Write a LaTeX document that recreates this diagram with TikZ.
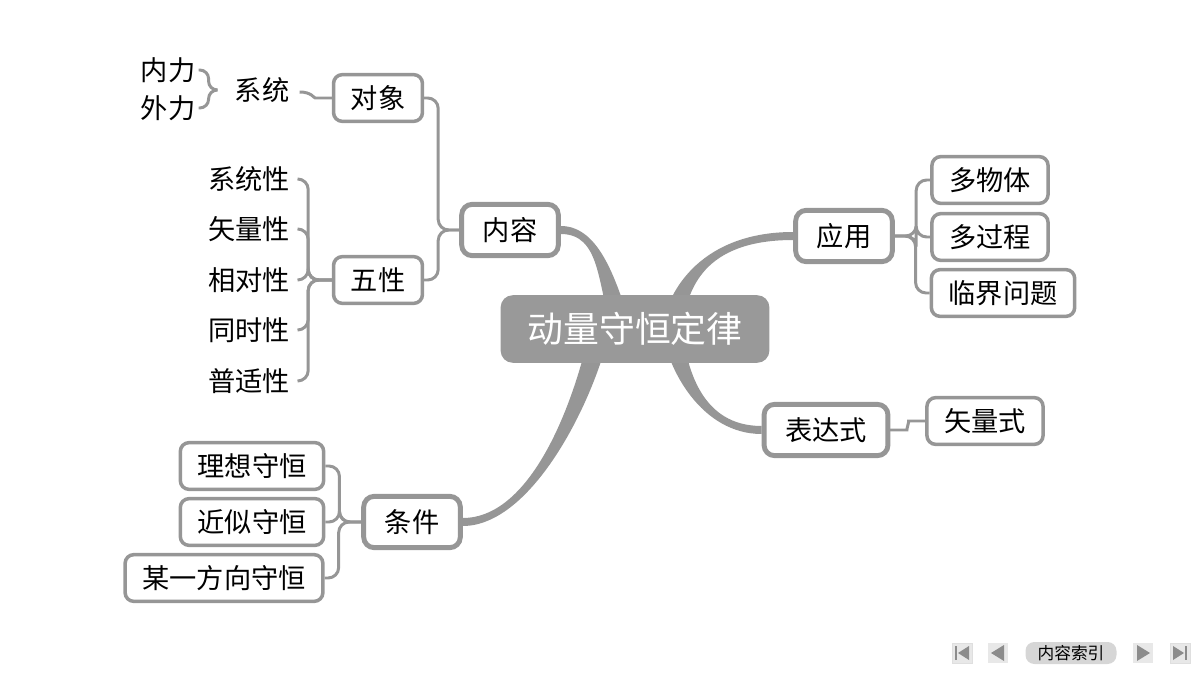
\documentclass[tikz,border=0pt]{standalone}
\usepackage{fontspec}
\setmainfont{Noto Sans CJK SC}
\usetikzlibrary{calc,backgrounds}
\definecolor{mmLine}{RGB}{150,150,150}
\definecolor{mmRoot}{RGB}{153,153,153}
\definecolor{navBg}{RGB}{232,232,232}
\definecolor{navTab}{RGB}{214,214,214}
\definecolor{navTri}{RGB}{140,140,140}
% tapered branch: child anchor, root point, child control, root control, side
\newcommand{\trunk}[5]{%
  \fill[mmLine]
    ($(#1)+(0,-4)$) .. controls ($(#1)+(#3)+(0,-4)$)
      and ($(#2)+(#4)+(#5*10,0)$) .. ($(#2)+(#5*10,0)$)
    -- ($(#2)+(-#5*10,0)$) .. controls ($(#2)+(#4)+(-#5*10,0)$)
      and ($(#1)+(#3)+(0,4)$) .. ($(#1)+(0,4)$) -- cycle;}

\begin{document}
\begin{tikzpicture}[
    x=0.02cm, y=-0.02cm,
    txt/.style={font=\fontsize{15.5}{18}\selectfont},
    rootbox/.style={fill=mmRoot, rounded corners=7pt, text=white,
      font=\fontsize{20.4}{24}\selectfont, inner xsep=15.3pt, minimum height=38.5pt},
    mainbox/.style={txt, draw=mmLine, fill=white, line width=2.8pt, rounded corners=6pt,
      inner xsep=12pt, minimum height=29.2pt},
    leafbox/.style={txt, draw=mmLine, fill=white, line width=2pt, rounded corners=5pt,
      inner xsep=9.8pt, minimum height=26.6pt},
    label/.style={txt, inner sep=0pt},
    link/.style={draw=mmLine, line width=1.7pt, rounded corners=6pt},
    navbtn/.style={fill=navBg, minimum size=0.4cm, inner sep=0pt},
  ]
  \useasboundingbox (0,0) rectangle (1200,675);

  %% ================= centre and first level =================
  \node[rootbox] (central) at (635,329) {动量守恒定律};
  \node[mainbox] (neirong)   at (510,230) {内容};
  \node[mainbox] (tiaojian)  at (412,522) {条件};
  \node[mainbox] (yingyong)  at (844,236) {应用};
  \node[mainbox] (biaodashi) at (826,430) {表达式};

  %% ---- under 内容 ----
  \node[leafbox] (duixiang) at (378,98)  {对象};
  \node[leafbox] (wuxing)   at (378,280) {五性};
  \node[label] (xitong) at (262,90)  {系统};
  \node[label] (neili)  at (168,70)  {内力};
  \node[label] (waili)  at (168,108) {外力};
  \node[label] (xtx) at (249,179) {系统性};
  \node[label] (slx) at (249,229) {矢量性};
  \node[label] (xdx) at (249,280) {相对性};
  \node[label] (tsx) at (249,330) {同时性};
  \node[label] (psx) at (249,381) {普适性};

  %% ---- under 条件 ----
  \node[leafbox] (lxsh) at (252,466) {理想守恒};
  \node[leafbox] (jssh) at (252,522) {近似守恒};
  \node[leafbox] (fxsh) at (224,578) {某一方向守恒};

  %% ---- under 应用 / 表达式 ----
  \node[leafbox] (duowuti)   at (990,180)  {多物体};
  \node[leafbox] (duoguocheng) at (990,237) {多过程};
  \node[leafbox] (linjie)    at (1003,293) {临界问题};
  \node[leafbox] (shiliangshi) at (985,421) {矢量式};

  %% ================= connectors =================
  \begin{scope}[on background layer]
    \coordinate (rootNW) at ($(central.center)+(-13,0)$);
    \coordinate (rootNE) at ($(central.center)+(37,0)$);
    \coordinate (rootSW) at ($(central.center)+(-35,0)$);
    \trunk{neirong.east}{rootNW}{40,0}{-15,-45}{1}
    \trunk{yingyong.west}{rootNE}{-90,0}{5,-40}{-1}
    \trunk{biaodashi.west}{rootNE}{-60,0}{5,40}{1}
    \trunk{tiaojian.east}{rootSW}{70,0}{-15,70}{-1}

    \draw[link] (duixiang.east) -- ++(14,0) |- (neirong.west);
    \draw[link] (wuxing.east) -- ++(14,0) |- (neirong.west);
    \draw[link] ($(xitong.east)+(10,2)$) .. controls ++(12,0) and ($(duixiang.west)+(-18,0)$)
      .. ($(duixiang.west)+(-6,0)$) -- (duixiang.west);
    \draw[link, rounded corners=5pt] ($(neili.east)+(3,0)$) -- ++(10,0) |- ($(xitong.west)+(-19,0)$);
    \draw[link, rounded corners=5pt] ($(waili.east)+(3,0)$) -- ++(10,0) |- ($(xitong.west)+(-19,0)$);
    \foreach \n in {xtx,slx,xdx,tsx,psx}
      \draw[link] ($(\n.east)+(8,0)$) -- ++(10,0) |- (wuxing.west);
    \foreach \n in {lxsh,jssh,fxsh}
      \draw[link] (\n.east) -- ++(14,0) |- (tiaojian.west);
    \foreach \n in {duowuti,duoguocheng,linjie}
      \draw[link] (\n.west) -- ++(-14,0) |- (yingyong.east);
    \draw[link] (biaodashi.east) -- ++(6,0) .. controls ++(10,0) and ($(shiliangshi.west)+(-16,0)$)
      .. ($(shiliangshi.west)+(-6,0)$) -- (shiliangshi.west);
  \end{scope}

  %% ================= navigation bar =================
  \node[navbtn, draw=gray!25] (navFirst) at (962,653) {};
  \node[navbtn] (navPrev) at (998,653) {};
  \node[fill=navTab, rounded corners=5pt, minimum width=1.82cm, minimum height=0.44cm,
    inner sep=0pt, font=\fontsize{9.5}{11}\selectfont] (navIndex) at (1071,653) {内容索引};
  \node[navbtn] (navNext) at (1143,653) {};
  \node[navbtn, draw=gray!25] (navLast) at (1180,653) {};
  \fill[navTri] ($(navFirst.center)+(-7,-7)$) rectangle ++(2,14);
  \fill[navTri] ($(navFirst.center)+(-4,0)$) -- ++(11,-7) -- ++(0,14) -- cycle;
  \fill[navTri] ($(navPrev.center)+(-7,0)$) -- ++(13,-8) -- ++(0,16) -- cycle;
  \fill[navTri] ($(navNext.center)+(7,0)$) -- ++(-13,-8) -- ++(0,16) -- cycle;
  \fill[navTri] ($(navLast.center)+(5,-7)$) rectangle ++(2,14);
  \fill[navTri] ($(navLast.center)+(4,0)$) -- ++(-11,-7) -- ++(0,14) -- cycle;

\end{tikzpicture}
\end{document}
